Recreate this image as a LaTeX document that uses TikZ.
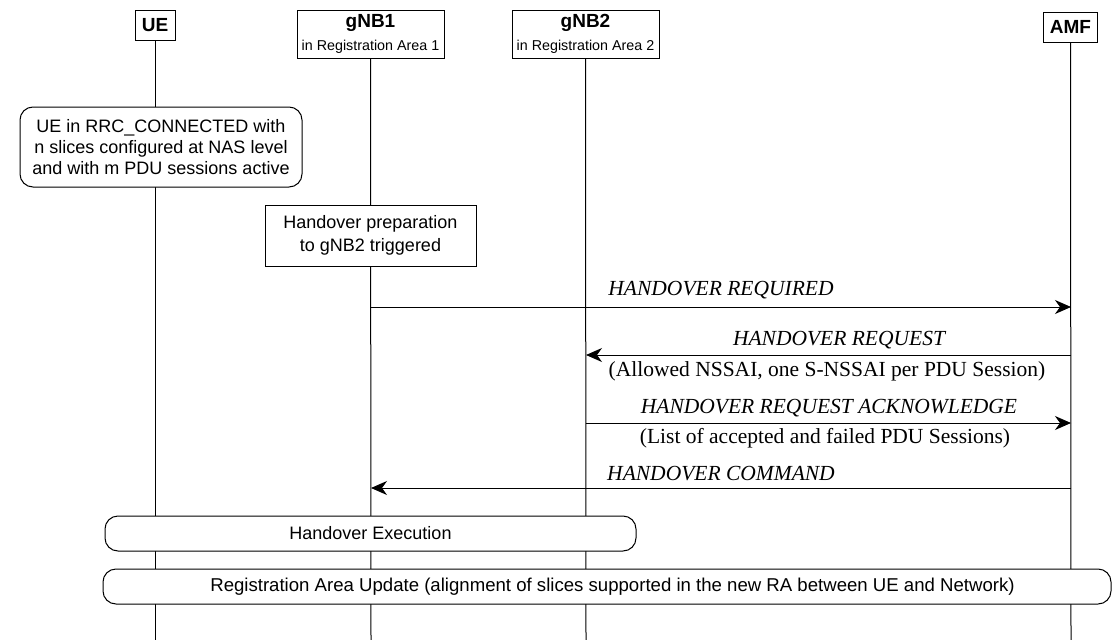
\documentclass[tikz,border=0pt]{standalone}
\usepackage{fontspec}
\setmainfont{Liberation Sans}
\newfontfamily\tnr{Liberation Serif}
\usetikzlibrary{arrows.meta}
\begin{document}
\begin{tikzpicture}[x=1pt,y=-1pt,
  ent/.style={draw, line width=1pt, fill=white, inner sep=0pt, align=center},
  enttitle/.style={font=\fontsize{19}{21}\selectfont\bfseries},
  lifeline/.style={line width=1pt},
  statebox/.style={draw, line width=1pt, fill=white, rounded corners=13pt, inner sep=0pt, align=center, font=\fontsize{18}{21}\selectfont},
  actbox/.style={draw, line width=1pt, fill=white, inner sep=0pt, align=center, font=\fontsize{18}{23}\selectfont},
  msg/.style={line width=1pt, -{Stealth[length=16pt,width=14pt,inset=5pt]}},
  msglabel/.style={font=\tnr\itshape\fontsize{21.5}{24}\selectfont, inner sep=0pt},
  msgsub/.style={font=\tnr\fontsize{21.5}{24}\selectfont, inner sep=0pt}
]
\useasboundingbox (0,0) rectangle (1114,640);

% entity boxes
\node[ent, enttitle, minimum width=40pt, minimum height=30pt] (ue) at (155,25) {UE};
\node[ent, minimum width=147pt, minimum height=48pt] (gnb1) at (370.5,34) {};
\node[enttitle, inner sep=0pt] (gnb1t) at (370.5,23) {gNB1};
\node[font=\fontsize{14.3}{16}\selectfont, inner sep=0pt] (gnb1s) at (370.5,47) {in Registration Area 1};
\node[ent, minimum width=147pt, minimum height=48pt] (gnb2) at (585.5,34) {};
\node[enttitle, inner sep=0pt] (gnb2t) at (585.5,23) {gNB2};
\node[font=\fontsize{14.3}{16}\selectfont, inner sep=0pt] (gnb2s) at (585.5,47) {in Registration Area 2};
\node[ent, enttitle, minimum width=54pt, minimum height=30pt] (amf) at (1070.5,27) {AMF};

% lifeline ends
\coordinate (ueE) at (155,640);
\coordinate (g1E) at (371,640);
\coordinate (g2E) at (586,640);
\coordinate (amfE) at (1071,640);
\draw[lifeline] (ue.south) -- (ueE);
\draw[lifeline] (gnb1.south) -- (g1E);
\draw[lifeline] (gnb2.south) -- (g2E);
\draw[lifeline] (amf.south) -- (amfE);

% state box
\node[statebox, minimum width=282pt, minimum height=80pt] (uestate) at (161,147)
  {UE in RRC\_CONNECTED with\\n slices configured at NAS level\\and with m PDU sessions active};

% handover preparation
\node[actbox, minimum width=211pt, minimum height=61pt] (hoprep) at (370.5,235.5)
  {Handover preparation\\to gNB2 triggered};

% message endpoints
\coordinate (m1a) at (371,307);  \coordinate (m1b) at (1071,307);
\coordinate (m2a) at (1071,355); \coordinate (m2b) at (586,355);
\coordinate (m3a) at (586,423);  \coordinate (m3b) at (1071,423);
\coordinate (m4a) at (1071,488); \coordinate (m4b) at (371,488);

\draw[msg] (m1a) -- (m1b);
\node[msglabel] (l1) at (721,290) {HANDOVER REQUIRED};

\draw[msg] (m2a) -- (m2b);
\node[msglabel] (l2) at (839,340) {HANDOVER REQUEST};
\node[msgsub] (l2s) at (827,371) {(Allowed NSSAI, one S-NSSAI per PDU Session)};

\draw[msg] (m3a) -- (m3b);
\node[msglabel] (l3) at (829,408) {HANDOVER REQUEST ACKNOWLEDGE};
\node[msgsub] (l3s) at (825,438) {(List of accepted and failed PDU Sessions)};

\draw[msg] (m4a) -- (m4b);
\node[msglabel] (l4) at (721,474) {HANDOVER COMMAND};

% execution boxes
\node[statebox, minimum width=531pt, minimum height=35pt] (hoexec) at (370.5,533.5) {Handover Execution};
\node[statebox, minimum width=1008pt, minimum height=35pt] (rau) at (607,586.5) {};
\node[font=\fontsize{18.6}{21}\selectfont, inner sep=0pt] (raut) at (612.5,587)
  {Registration Area Update (alignment of slices supported in the new RA between UE and Network)};
\end{tikzpicture}
\end{document}
